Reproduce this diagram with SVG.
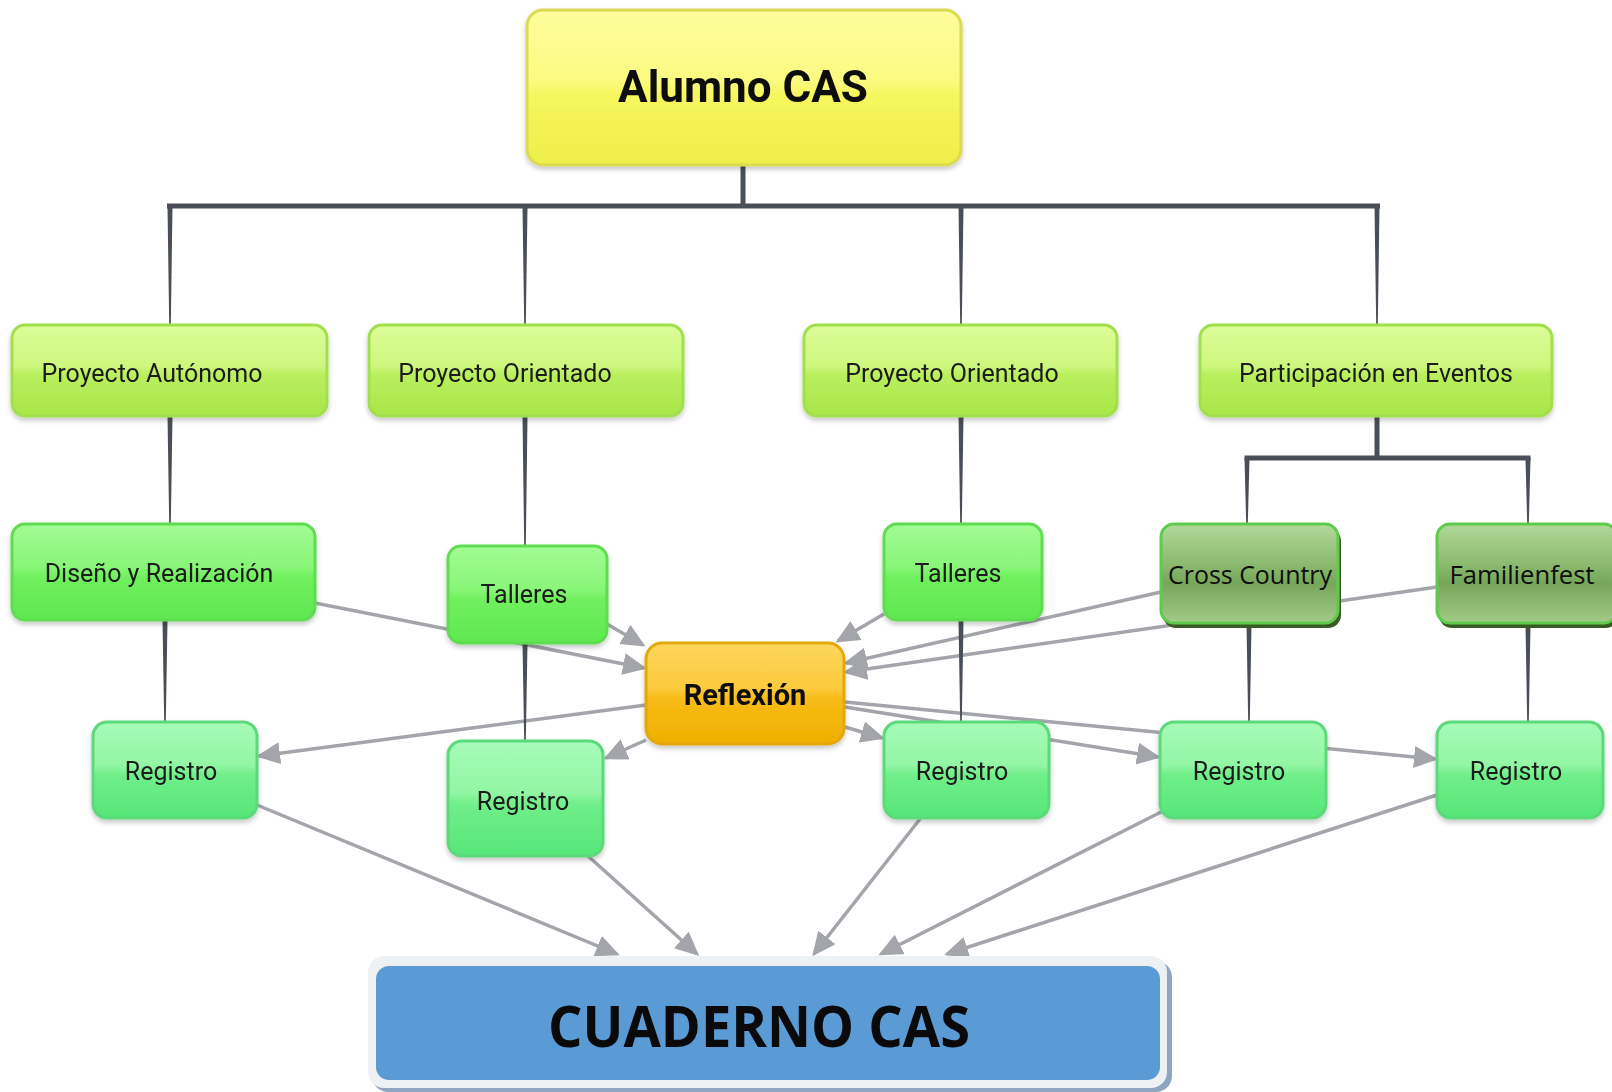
<svg xmlns="http://www.w3.org/2000/svg" width="1612" height="1092" viewBox="0 0 1612 1092">
<style>
.lbl{font-family:Roboto,"Liberation Sans",sans-serif;font-size:25px;fill:#1c1c1c;text-anchor:middle}
.bold{font-weight:bold;fill:#111}
.cal{font-family:"Open Sans","Liberation Sans",sans-serif;font-size:26px;fill:#0e0e0e;text-anchor:middle}
.arr{stroke:#a3a5ab;stroke-width:3.5;fill:none;marker-end:url(#ah)}
.tree{fill:#4a4f57;stroke:none}
.n{filter:url(#sh)}
</style>
<defs>
<filter id="sh" x="-10%" y="-10%" width="120%" height="130%">
<feDropShadow dx="0" dy="3" stdDeviation="2.5" flood-color="#000" flood-opacity="0.22"/>
</filter>
<marker id="ah" markerUnits="userSpaceOnUse" markerWidth="26" markerHeight="24" refX="21" refY="11" orient="auto">
<path d="M0,0 L24,11 L0,22 z" fill="#a3a5ab"/>
</marker>
<linearGradient id="gY" x1="0" y1="0" x2="0" y2="1"><stop offset="0" stop-color="#fdfd9c"/><stop offset="0.45" stop-color="#fbfb82"/><stop offset="0.55" stop-color="#f6f65e"/><stop offset="1" stop-color="#eeee4a"/></linearGradient>
<linearGradient id="gL" x1="0" y1="0" x2="0" y2="1"><stop offset="0" stop-color="#dcfd98"/><stop offset="0.45" stop-color="#cdf77e"/><stop offset="0.55" stop-color="#b9ef5e"/><stop offset="1" stop-color="#a8e648"/></linearGradient>
<linearGradient id="gG" x1="0" y1="0" x2="0" y2="1"><stop offset="0" stop-color="#a2fb94"/><stop offset="0.45" stop-color="#88f677"/><stop offset="0.55" stop-color="#70f05e"/><stop offset="1" stop-color="#5fe84f"/></linearGradient>
<linearGradient id="gM" x1="0" y1="0" x2="0" y2="1"><stop offset="0" stop-color="#a6fbb8"/><stop offset="0.45" stop-color="#92f6a4"/><stop offset="0.55" stop-color="#70ef8a"/><stop offset="1" stop-color="#56e678"/></linearGradient>
<linearGradient id="gO" x1="0" y1="0" x2="0" y2="1"><stop offset="0" stop-color="#fdd65c"/><stop offset="0.45" stop-color="#fbca3c"/><stop offset="0.55" stop-color="#f7bc16"/><stop offset="1" stop-color="#eeb000"/></linearGradient>
<linearGradient id="gD" x1="0" y1="0" x2="0" y2="1"><stop offset="0" stop-color="#b2d89a"/><stop offset="0.4" stop-color="#8cbb70"/><stop offset="0.6" stop-color="#76a65a"/><stop offset="1" stop-color="#a4cb88"/></linearGradient>
</defs>
<rect width="1612" height="1092" fill="#fff"/>

<g id="connectors">
<line class="arr" x1="315" y1="603" x2="644" y2="668"/>
<line class="arr" x1="607" y1="624" x2="643" y2="645"/>
<line class="arr" x1="884" y1="614" x2="838" y2="641"/>
<line class="arr" x1="1161" y1="592" x2="846" y2="663"/>
<line class="arr" x1="1437" y1="587" x2="846" y2="672"/>
<line class="arr" x1="646" y1="705" x2="259" y2="756"/>
<line class="arr" x1="646" y1="740" x2="606" y2="758"/>
<line class="arr" x1="845" y1="727" x2="882" y2="738"/>
<line class="arr" x1="845" y1="707" x2="1158" y2="757"/>
<line class="arr" x1="845" y1="702" x2="1435" y2="759"/>
<line class="arr" x1="257" y1="805" x2="617" y2="954"/>
<line class="arr" x1="588" y1="856" x2="697" y2="954"/>
<line class="arr" x1="920" y1="819" x2="814" y2="954"/>
<line class="arr" x1="1161" y1="812" x2="881" y2="954"/>
<line class="arr" x1="1437" y1="795" x2="947" y2="954"/>

<rect class="tree" x="740.5" y="164" width="5" height="44"/>
<rect class="tree" x="167" y="203.5" width="1213" height="5"/>
<polygon class="tree" points="167.5,206 172.5,206 170.8,325 169.2,325"/>
<polygon class="tree" points="522.5,206 527.5,206 525.8,325 524.2,325"/>
<polygon class="tree" points="958.5,206 963.5,206 961.8,325 960.2,325"/>
<polygon class="tree" points="1374.5,206 1379.5,206 1377.8,325 1376.2,325"/>
<polygon class="tree" points="167.5,416 172.5,416 170.8,524 169.2,524"/>
<polygon class="tree" points="162.5,620 167.5,620 165.8,722 164.2,722"/>
<polygon class="tree" points="522.5,416 527.5,416 525.8,546 524.2,546"/>
<polygon class="tree" points="522.5,643 527.5,643 525.8,741 524.2,741"/>
<polygon class="tree" points="958.5,416 963.5,416 961.8,524 960.2,524"/>
<polygon class="tree" points="958.5,620 963.5,620 961.8,722 960.2,722"/>
<rect class="tree" x="1374.5" y="415" width="5" height="45"/>
<rect class="tree" x="1244.5" y="455.5" width="286" height="5"/>
<polygon class="tree" points="1244.5,458 1249.5,458 1247.8,524 1246.2,524"/>
<polygon class="tree" points="1525.5,458 1530.5,458 1528.8,524 1527.2,524"/>
<polygon class="tree" points="1246.5,624 1251.5,624 1249.8,722 1248.2,722"/>
<polygon class="tree" points="1525.5,624 1530.5,624 1528.8,722 1527.2,722"/>
</g>

<g id="alumno" class="n"><rect x="527" y="10" width="434" height="155" rx="16" fill="url(#gY)" stroke="#dada52" stroke-width="3"/><text class="lbl bold" x="743" y="102" style="font-size:44px">Alumno CAS</text></g>

<g id="proyecto-autonomo" class="n"><rect x="12" y="325" width="315" height="91" rx="13" fill="url(#gL)" stroke="#a3df4e" stroke-width="3"/><text class="lbl" x="152" y="382">Proyecto Autónomo</text></g>
<g id="proyecto-orientado-1" class="n"><rect x="369" y="325" width="314" height="91" rx="13" fill="url(#gL)" stroke="#a3df4e" stroke-width="3"/><text class="lbl" x="505" y="382">Proyecto Orientado</text></g>
<g id="proyecto-orientado-2" class="n"><rect x="804" y="325" width="313" height="91" rx="13" fill="url(#gL)" stroke="#a3df4e" stroke-width="3"/><text class="lbl" x="952" y="382">Proyecto Orientado</text></g>
<g id="participacion" class="n"><rect x="1200" y="325" width="352" height="91" rx="13" fill="url(#gL)" stroke="#a3df4e" stroke-width="3"/><text class="lbl" x="1376" y="382">Participación en Eventos</text></g>

<g id="diseno" class="n"><rect x="12" y="524" width="303" height="96" rx="13" fill="url(#gG)" stroke="#5fdc50" stroke-width="3"/><text class="lbl" x="159" y="582">Diseño y Realización</text></g>
<g id="talleres-1" class="n"><rect x="448" y="546" width="159" height="97" rx="13" fill="url(#gG)" stroke="#5fdc50" stroke-width="3"/><text class="lbl" x="524" y="603">Talleres</text></g>
<g id="talleres-2" class="n"><rect x="884" y="524" width="158" height="96" rx="13" fill="url(#gG)" stroke="#5fdc50" stroke-width="3"/><text class="lbl" x="958" y="582">Talleres</text></g>
<g id="cross-country"><rect x="1163" y="528" width="178" height="100" rx="13" fill="#3b5a24"/><rect x="1161" y="524" width="177" height="99" rx="13" fill="url(#gD)" stroke="#5ccc4a" stroke-width="3"/><text class="cal" x="1250" y="584" textLength="164" lengthAdjust="spacingAndGlyphs">Cross Country</text></g>
<g id="familienfest"><rect x="1439" y="528" width="180" height="100" rx="13" fill="#3b5a24"/><rect x="1437" y="524" width="180" height="99" rx="13" fill="url(#gD)" stroke="#5ccc4a" stroke-width="3"/><text class="cal" x="1522" y="584" textLength="145" lengthAdjust="spacingAndGlyphs">Familienfest</text></g>

<g id="reflexion" class="n"><rect x="646" y="643" width="198" height="101" rx="16" fill="url(#gO)" stroke="#e3a808" stroke-width="3"/><text class="lbl bold" x="745" y="705" style="font-size:29px">Reflexión</text></g>

<g id="registro-1" class="n"><rect x="93" y="722" width="164" height="96" rx="14" fill="url(#gM)" stroke="#5cd97a" stroke-width="3"/><text class="lbl" x="171" y="780">Registro</text></g>
<g id="registro-2" class="n"><rect x="448" y="741" width="155" height="115" rx="14" fill="url(#gM)" stroke="#5cd97a" stroke-width="3"/><text class="lbl" x="523" y="810">Registro</text></g>
<g id="registro-3" class="n"><rect x="884" y="722" width="165" height="96" rx="14" fill="url(#gM)" stroke="#5cd97a" stroke-width="3"/><text class="lbl" x="962" y="780">Registro</text></g>
<g id="registro-4" class="n"><rect x="1160" y="722" width="166" height="96" rx="14" fill="url(#gM)" stroke="#5cd97a" stroke-width="3"/><text class="lbl" x="1239" y="780">Registro</text></g>
<g id="registro-5" class="n"><rect x="1437" y="722" width="166" height="96" rx="14" fill="url(#gM)" stroke="#5cd97a" stroke-width="3"/><text class="lbl" x="1516" y="780">Registro</text></g>

<g id="cuaderno"><rect x="372" y="961" width="800" height="131" rx="16" fill="#8ea6c2"/><rect x="368" y="956" width="799" height="132" rx="16" fill="#eef1f3"/><rect x="376" y="966" width="784" height="114" rx="13" fill="#5b9bd5"/><text x="759" y="1047" text-anchor="middle" textLength="422" lengthAdjust="spacingAndGlyphs" style="font-family:'Open Sans','Liberation Sans',sans-serif;font-weight:bold;font-size:57px;fill:#0a0a0a">CUADERNO CAS</text></g>
</svg>
